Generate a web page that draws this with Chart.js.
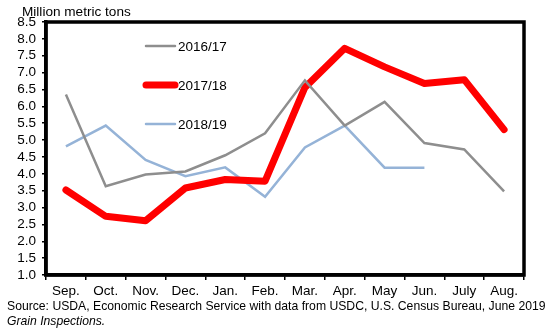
<!DOCTYPE html>
<html><head><meta charset="utf-8">
<script src="https://cdn.jsdelivr.net/npm/chart.js@4.4.1/dist/chart.umd.min.js"></script>
<style>html,body{margin:0;padding:0;background:#fff;}#wrap{width:554px;height:333px;position:relative;}</style>
</head><body><div id="wrap"><canvas id="c" width="554" height="333"></canvas></div>
<script>
const categories = ["Sep.","Oct.","Nov.","Dec.","Jan.","Feb.","Mar.","Apr.","May","Jun.","July","Aug."];
const s1617 = [6.35,3.63,3.98,4.07,4.55,5.2,6.77,5.43,6.13,4.91,4.72,3.48];
const s1718 = [3.52,2.74,2.61,3.58,3.83,3.78,6.56,7.72,7.17,6.68,6.79,5.31];
const s1819 = [4.81,5.43,4.41,3.93,4.19,3.32,4.78,5.43,4.18,4.18,null,null];
const yTicks = [1.0,1.5,2.0,2.5,3.0,3.5,4.0,4.5,5.0,5.5,6.0,6.5,7.0,7.5,8.0,8.5];
const yTitle = "Million metric tons";
const source1 = "Source: USDA, Economic Research Service with data from USDC, U.S. Census Bureau, June 2019";
const source2 = "Grain Inspections.";
const FONT = "'Liberation Sans', Arial, sans-serif";

const extras = {
  id: 'extras',
  afterDraw(chart) {
    const ctx = chart.ctx, a = chart.chartArea;
    ctx.save();
    ctx.strokeStyle = '#000'; ctx.lineWidth = 3.5;
    ctx.strokeRect(a.left, a.top, a.right - a.left, a.bottom - a.top);
    const ents = chart.data.datasets;
    const ys = [46, 85, 124];
    ents.forEach((d, i) => {
      ctx.strokeStyle = d.borderColor; ctx.lineWidth = d.borderWidth; ctx.lineCap = 'round';
      ctx.beginPath(); ctx.moveTo(146, ys[i]); ctx.lineTo(175, ys[i]); ctx.stroke();
      ctx.fillStyle = '#000'; ctx.font = "13.5px " + FONT; ctx.textBaseline = 'middle'; ctx.textAlign = 'left';
      ctx.fillText(d.label, 178, ys[i] + 1);
    });
    ctx.fillStyle = '#000'; ctx.textBaseline = 'alphabetic';
    ctx.font = "13.6px " + FONT;
    ctx.fillText(yTitle, 22, 16);
    ctx.font = "12.2px " + FONT;
    ctx.fillText(source1, 7, 310);
    ctx.font = "italic 12.2px " + FONT;
    ctx.fillText(source2, 7, 325);
    ctx.restore();
  }
};

new Chart(document.getElementById('c'), {
  type: 'line',
  data: {
    labels: categories,
    datasets: [
      {label: '2016/17', data: s1617, borderColor: '#8e8e8e', borderWidth: 2.5, pointRadius: 0, tension: 0},
      {label: '2017/18', data: s1718, borderColor: '#ff0000', borderWidth: 7, pointRadius: 0, tension: 0, borderCapStyle: 'round', borderJoinStyle: 'round'},
      {label: '2018/19', data: s1819, borderColor: '#95b3d7', borderWidth: 2.5, pointRadius: 0, tension: 0}
    ]
  },
  options: {
    responsive: false, animation: false, events: [],
    layout: {padding: {left: 0, top: 22, right: 30, bottom: 31}},
    plugins: {legend: {display: false}, tooltip: {enabled: false}, title: {display: false}},
    scales: {
      x: {
        offset: true,
        grid: {display: true, drawOnChartArea: false, drawTicks: true, tickLength: 5, color: '#000', lineWidth: 1.5, offset: true},
        border: {display: true, color: '#000', width: 3.5},
        ticks: {color: '#000', font: {family: FONT, size: 13.5}, padding: 3, maxRotation: 0, autoSkip: false},
        afterFit(s) { s.height = 27; }
      },
      y: {
        min: 1, max: 8.5,
        afterBuildTicks(s) { s.ticks = yTicks.map(v => ({value: v})); },
        grid: {display: true, drawOnChartArea: false, drawTicks: true, tickLength: 4, color: '#000', lineWidth: 1.5},
        border: {display: true, color: '#000', width: 3.5},
        ticks: {color: '#000', font: {family: FONT, size: 13.5}, padding: 6, autoSkip: false, callback: v => Number(v).toFixed(1)},
        afterFit(s) { s.width = 46; }
      }
    }
  },
  plugins: [extras]
});
</script></body></html>
